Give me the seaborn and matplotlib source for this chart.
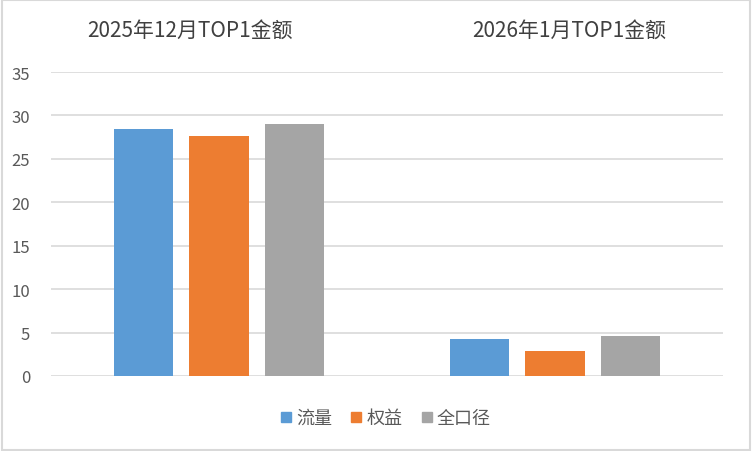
import matplotlib
matplotlib.use("Agg")
import matplotlib.pyplot as plt
import pandas as pd
import seaborn as sns

categories = ["2025年12月TOP1金额", "2026年1月TOP1金额"]
series = ["流量", "权益", "全口径"]
liuliang = [28.45, 4.28]
quanyi = [27.65, 2.92]
quankoujing = [29.03, 4.62]
yticks = [0, 5, 10, 15, 20, 25, 30, 35]
colors = ["#5B9BD5", "#ED7D31", "#A5A5A5"]

rows = []
for name, vals in zip(series, [liuliang, quanyi, quankoujing]):
    for cat, v in zip(categories, vals):
        rows.append({"cat": cat, "series": name, "value": v})
df = pd.DataFrame(rows)

sns.set_style("white")
plt.rcParams["font.family"] = ["Noto Sans CJK SC", "DejaVu Sans"]

fig = plt.figure(figsize=(7.52, 4.52), dpi=100)
ax = fig.add_axes([51 / 752, 1 - 377 / 452, 672 / 752, 304 / 452])

sns.barplot(data=df, x="cat", y="value", hue="series", order=categories,
            hue_order=series, palette=colors, width=0.675, gap=0.21,
            saturation=1, linewidth=0, ax=ax, legend=False)

ax.set_xlim(-0.5, 1.5)
ax.set_ylim(0, 35)
ax.set_yticks(yticks)
ax.set_yticklabels([str(t) for t in yticks], fontsize=12, color="#595959")
ax.set_xticks([])
ax.set_xlabel("")
ax.set_ylabel("")
ax.grid(axis="y", color="#D9D9D9", linewidth=1.2)
ax.set_axisbelow(True)
for s in ax.spines.values():
    s.set_visible(False)
ax.tick_params(axis="y", length=0, pad=15)

# category labels sit above the plot like in the Excel chart
fig.text(190 / 752, 1 - 31 / 452, categories[0], ha="center", va="center",
         fontsize=15, color="#404040")
fig.text(569 / 752, 1 - 31 / 452, categories[1], ha="center", va="center",
         fontsize=15, color="#404040")

handles = [plt.Line2D([], [], marker="s", linestyle="", markersize=7,
                      color=c) for c in colors]
fig.legend(handles, series, loc="center", bbox_to_anchor=(385 / 752, 1 - 419 / 452),
           ncol=3, frameon=False, fontsize=13, handlelength=0.7,
           handletextpad=0.2, columnspacing=1.0, labelcolor="#595959")

# light chart border
border = plt.Rectangle((0.002, 0.002), 0.996, 0.996, transform=fig.transFigure,
                       fill=False, edgecolor="#D9D9D9", linewidth=1.5)
fig.add_artist(border)

fig.savefig("out.png", dpi=100)
